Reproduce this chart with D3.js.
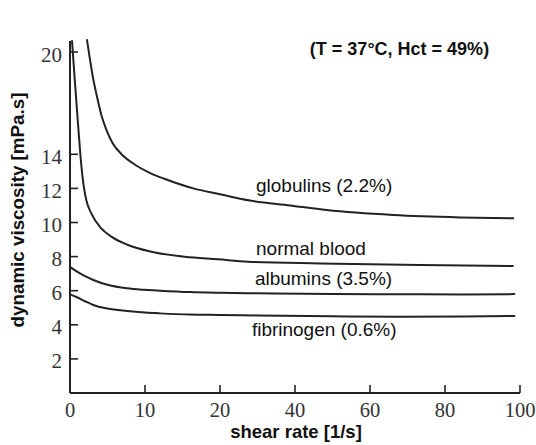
<!DOCTYPE html>
<html><head><meta charset="utf-8">
<script src="https://cdn.jsdelivr.net/npm/d3@7"></script>
<style>html,body{margin:0;padding:0;background:#fff;}svg{display:block;}</style>
</head><body>
<svg id="chart" width="536" height="445"></svg>
<script>
// ---- data ----
const xTicks = [10, 20, 40, 60, 80, 100];
const xLabelValues = [0, 10, 20, 40, 60, 80, 100];
const xTickLabels = ["0", "10", "20", "40", "60", "80", "100"];
const yTicks = [2, 4, 6, 8, 10, 12, 14, 20];
const seriesNames = ["globulins (2.2%)", "normal blood", "albumins (3.5%)", "fibrinogen (0.6%)"];

const globulinsX = [2.27, 2.63, 3.07, 3.64, 4.17, 4.84, 5.73, 6.84, 8.63, 10.84, 12.67, 16.44, 20, 28, 38.67, 48.45, 66.2, 84, 98.2];
const globulinsY = [20.7, 19.65, 18.48, 17.3, 16.32, 15.45, 14.62, 14.02, 13.4, 12.87, 12.55, 12.0, 11.66, 11.29, 11.0, 10.73, 10.44, 10.3, 10.25];

const bloodX = [0.27, 0.56, 0.87, 1.17, 1.4, 1.64, 1.87, 2.17, 2.84, 4.17, 5.51, 7.73, 10.84, 15.29, 19.73, 27.5, 46.67, 73.3, 98.1];
const bloodY = [20.65, 18.83, 16.95, 15.19, 13.9, 12.79, 12.02, 11.32, 10.53, 9.65, 9.17, 8.68, 8.29, 7.99, 7.84, 7.7, 7.6, 7.51, 7.45];

const albuminsX = [0, 1, 2, 3.1, 5, 7.6, 10, 12, 16, 20, 30, 50, 68, 85, 98.5];
const albuminsY = [7.4, 7.1, 6.85, 6.63, 6.35, 6.14, 6.05, 6.0, 5.92, 5.88, 5.85, 5.8, 5.79, 5.78, 5.8];

const fibrinogenX = [0, 1, 2, 3.1, 5, 7.6, 10, 12, 16, 20, 30, 50, 68, 85, 98.5];
const fibrinogenY = [5.79, 5.6, 5.38, 5.16, 4.95, 4.81, 4.72, 4.67, 4.6, 4.58, 4.55, 4.5, 4.47, 4.48, 4.52];

const labelAnchorX = [29.6, 29.6, 29.3, 28.5];   // shear rate where each label starts
const labelAnchorY = [11.79, 8.09, 6.35, 3.35];  // viscosity at each label baseline

// ---- chart ----
const svg = d3.select("#chart");
const x = d3.scaleLinear().domain([0, 20, 100]).range([70, 220, 520]);
const y = d3.scaleLinear().domain([0, 20]).range([393, 52]);
const ink = "#222";

const series = [
  [globulinsX, globulinsY],
  [bloodX, bloodY],
  [albuminsX, albuminsY],
  [fibrinogenX, fibrinogenY]
].map(([xs, ys]) => xs.map((v, i) => [v, ys[i]]));

const line = d3.line().x(d => x(d[0])).y(d => y(d[1])).curve(d3.curveMonotoneX);

svg.append("g").selectAll("path").data(series).join("path")
  .attr("d", line).attr("fill", "none").attr("stroke", ink)
  .attr("stroke-width", 2).attr("stroke-linecap", "round");

// axes
const axisG = svg.append("g");
axisG.append("line").attr("x1", x(0)).attr("x2", x(0)).attr("y1", y(20.65)).attr("y2", y(0))
  .attr("stroke", ink).attr("stroke-width", 2);
axisG.append("line").attr("x1", x(0)).attr("x2", x(100)).attr("y1", y(0)).attr("y2", y(0))
  .attr("stroke", ink).attr("stroke-width", 2);

axisG.selectAll(".xt").data(xTicks).join("line")
  .attr("x1", d => x(d)).attr("x2", d => x(d)).attr("y1", y(0)).attr("y2", y(0) - 8)
  .attr("stroke", ink).attr("stroke-width", 1.6);
axisG.selectAll(".yt").data(yTicks).join("line")
  .attr("x1", x(0)).attr("x2", x(0) + 8).attr("y1", d => y(d)).attr("y2", d => y(d))
  .attr("stroke", ink).attr("stroke-width", 1.6);

const serif = "'Liberation Serif','DejaVu Serif',serif";
axisG.selectAll(".xl").data(xLabelValues).join("text")
  .attr("x", d => x(d)).attr("y", 417).attr("text-anchor", "middle")
  .attr("font-family", serif).attr("font-size", 20.5).attr("fill", "#333")
  .text((d, i) => xTickLabels[i]);
axisG.selectAll(".yl").data(yTicks).join("text")
  .attr("x", 62).attr("y", d => y(d) + 9.5).attr("text-anchor", "end")
  .attr("font-family", serif).attr("font-size", 21).attr("fill", "#333")
  .text(d => d);

const sans = "'Liberation Sans',Arial,sans-serif";
svg.append("text").attr("transform", "translate(24,210) rotate(-90)")
  .attr("text-anchor", "middle").attr("font-family", sans).attr("font-weight", "bold")
  .attr("font-size", 18.8).attr("fill", "#111").text("dynamic viscosity [mPa.s]");
svg.append("text").attr("x", 296).attr("y", 437.5)
  .attr("text-anchor", "middle").attr("font-family", sans).attr("font-weight", "bold")
  .attr("font-size", 18.5).attr("fill", "#111").text("shear rate [1/s]");
svg.append("text").attr("x", 399.5).attr("y", 54.5)
  .attr("text-anchor", "middle").attr("font-family", sans).attr("font-weight", "bold")
  .attr("font-size", 18).attr("fill", "#111").text("(T = 37°C, Hct = 49%)");

svg.append("g").selectAll("text").data(seriesNames).join("text")
  .attr("x", (d, i) => x(labelAnchorX[i])).attr("y", (d, i) => y(labelAnchorY[i]))
  .attr("font-family", sans).attr("font-size", 19).attr("fill", "#111")
  .text(d => d);
</script>
</body></html>
